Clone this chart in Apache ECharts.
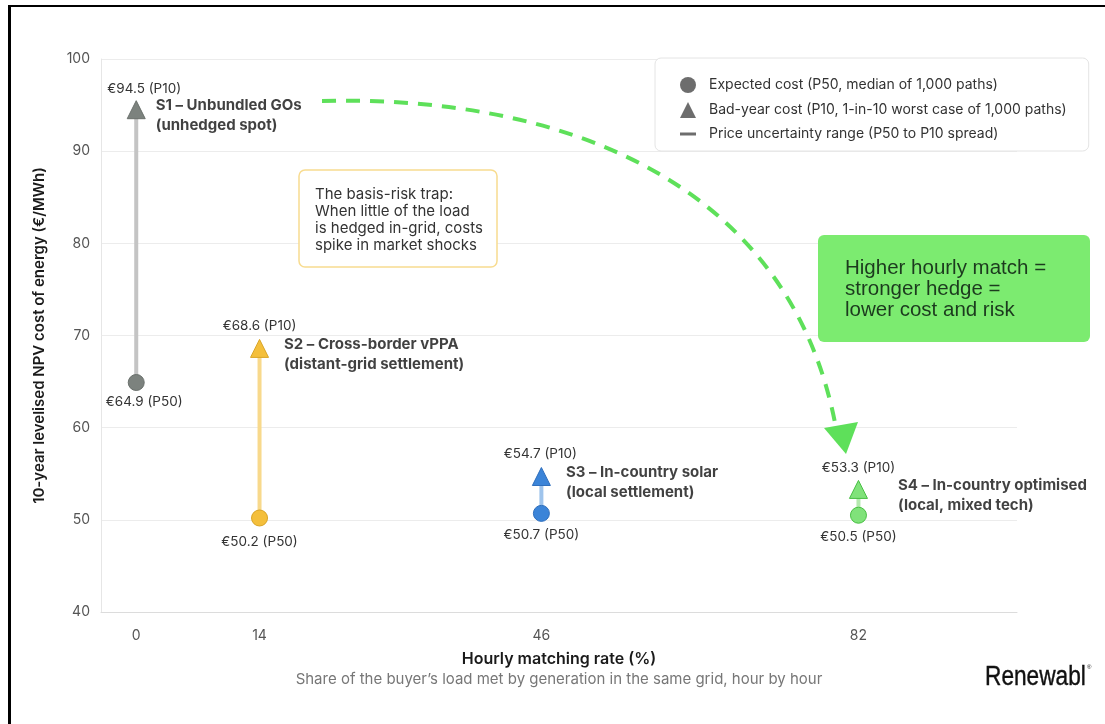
<!DOCTYPE html>
<html>
<head>
<meta charset="utf-8">
<title>Hourly matching vs cost of energy</title>
<script src="https://cdn.jsdelivr.net/npm/echarts@6/dist/echarts.min.js"></script>
<style>
  html, body { margin: 0; padding: 0; background: #ffffff; }
  #chart { width: 1105px; height: 724px; }
</style>
</head>
<body>
<div id="chart"></div>
<script>
// Scenario data: hourly matching rate and NPV cost of energy (EUR/MWh)
const scenarioNames = ['S1 – Unbundled GOs', 'S2 – Cross-border vPPA', 'S3 – In-country solar', 'S4 – In-country optimised'];
const scenarioNotes = ['(unhedged spot)', '(distant-grid settlement)', '(local settlement)', '(local, mixed tech)'];
const matchingRate = [0, 14, 46, 82];
const p50Cost = [64.9, 50.2, 50.7, 50.5];
const p10Cost = [94.5, 68.6, 54.7, 53.3];
const xTickValues = [0, 14, 46, 82];

// Per-scenario colours: marker fill, marker border, range line
const markerColors = ['#7c827e', '#f4bf3b', '#3b84d8', '#80e27a'];
const markerBorders = ['#6a706c', '#d9a527', '#2f6fbd', '#48bf43'];
const rangeColors = ['#c4c4c4', '#f8d98c', '#9fc4ec', '#b4e9ae'];

const FONT = 'Inter, "Noto Sans", sans-serif';
const chart = echarts.init(document.getElementById('chart'), null, { renderer: 'canvas' });

// Fine label placement per scenario
const p10LabelOffset = [[8, 2], [0, 0], [-1, 0], [0, 1]];
const p50LabelOffset = [[8, -2], [0, 2], [0, 0], [0, 0]];
const nameLabelDist = [19, 24, 24, 39];

const series = [];

// Range lines (P50 to P10)
scenarioNames.forEach((name, i) => {
  series.push({
    type: 'line',
    name: 'range-' + i,
    data: [[matchingRate[i], p50Cost[i]], [matchingRate[i], p10Cost[i]]],
    symbol: 'none',
    lineStyle: { color: rangeColors[i], width: 4, opacity: 1 },
    z: 2,
    silent: true,
    legendHoverLink: false
  });
});

// P50 circles
series.push({
  type: 'scatter',
  name: 'p50',
  symbol: 'circle',
  symbolSize: 16,
  z: 4,
  itemStyle: { opacity: 1 },
  data: matchingRate.map((x, i) => ({
    value: [x, p50Cost[i]],
    itemStyle: { color: markerColors[i], borderColor: markerBorders[i], borderWidth: 1, opacity: 1 },
    label: { offset: p50LabelOffset[i] }
  })),
  label: {
    show: true,
    position: 'bottom',
    distance: 6,
    formatter: p => '€' + p.value[1].toFixed(1) + ' (P50)',
    color: '#333333',
    fontSize: 13.5,
    fontFamily: FONT
  }
});

// P10 triangles
series.push({
  type: 'scatter',
  name: 'p10',
  symbol: 'triangle',
  symbolSize: 18,
  z: 4,
  itemStyle: { opacity: 1 },
  data: matchingRate.map((x, i) => ({
    value: [x, p10Cost[i]],
    itemStyle: { color: markerColors[i], borderColor: markerBorders[i], borderWidth: 1, opacity: 1 },
    label: { offset: p10LabelOffset[i] }
  })),
  label: {
    show: true,
    position: 'top',
    distance: 6,
    formatter: p => '€' + p.value[1].toFixed(1) + ' (P10)',
    color: '#333333',
    fontSize: 13.5,
    fontFamily: FONT
  }
});

// Scenario name labels beside the P10 marker
series.push({
  type: 'scatter',
  name: 'names',
  symbolSize: 1,
  itemStyle: { color: 'rgba(0,0,0,0)' },
  z: 5,
  silent: true,
  data: matchingRate.map((x, i) => ({
    value: [x, p10Cost[i]],
    label: { distance: nameLabelDist[i] }
  })),
  label: {
    show: true,
    position: 'right',
    offset: [0, 6],
    align: 'left',
    formatter: p => scenarioNames[p.dataIndex] + '\n' + scenarioNotes[p.dataIndex],
    color: '#111111',
    fontSize: 15,
    fontWeight: 'bold',
    lineHeight: 20,
    fontFamily: FONT
  }
});

// Legend-only series
const legendNames = [
  'Expected cost (P50, median of 1,000 paths)',
  'Bad-year cost (P10, 1-in-10 worst case of 1,000 paths)',
  'Price uncertainty range (P50 to P10 spread)'
];
legendNames.forEach(n => {
  series.push({ type: 'scatter', name: n, data: [], itemStyle: { color: '#6d6d6d', opacity: 1 } });
});

// Decorative overlays: frame, annotation boxes, arrow, logo
const graphics = [
  { type: 'rect', shape: { x: 8, y: 5, width: 3, height: 719 }, style: { fill: '#000' }, z: 100 },
  { type: 'rect', shape: { x: 8, y: 5, width: 1097, height: 2 }, style: { fill: '#000' }, z: 100 },
  {
    type: 'rect', shape: { x: 299, y: 170, width: 198, height: 97, r: 6 },
    style: { fill: '#ffffff', stroke: '#f8dc90', lineWidth: 1.5 }, z: 20
  },
  {
    type: 'text', x: 315, y: 186, z: 21,
    style: {
      text: 'The basis-risk trap:\nWhen little of the load\nis hedged in-grid, costs\nspike in market shocks',
      fill: '#333333', font: '15px ' + FONT, lineHeight: 17, textVerticalAlign: 'top'
    }
  },
  {
    type: 'rect', shape: { x: 818, y: 235, width: 272, height: 107, r: 6 },
    style: { fill: '#7ceb70' }, z: 20
  },
  {
    type: 'text', x: 845, y: 258, z: 21,
    style: {
      text: 'Higher hourly match =\nstronger hedge =\nlower cost and risk',
      fill: '#1c3a1e', font: '20.5px "Liberation Sans", sans-serif', lineHeight: 21, textVerticalAlign: 'top'
    }
  },
  {
    type: 'bezierCurve', z: 15,
    shape: { x1: 322, y1: 101, cpx1: 560, cpy1: 95, cpx2: 790, cpy2: 180, x2: 836, y2: 428 },
    style: { stroke: '#5ee05a', lineWidth: 4, lineDash: [14, 10], fill: null }
  },
  {
    type: 'polygon', z: 15,
    shape: { points: [[846, 454], [824, 428], [858, 422]] },
    style: { fill: '#5ee05a' }
  },
  {
    type: 'text', x: 985, y: 664, z: 21, scaleX: 0.84,
    style: {
      text: 'Renewabl', fill: '#111111', stroke: '#111111', lineWidth: 0.4,
      font: '27px "Liberation Sans", sans-serif', textVerticalAlign: 'top'
    }
  },
  {
    type: 'text', x: 1087, y: 664, z: 21,
    style: { text: '®', fill: '#111111', font: '6px "Liberation Sans", sans-serif', textVerticalAlign: 'top' }
  }
];

chart.setOption({
  animation: false,
  backgroundColor: '#ffffff',
  textStyle: { fontFamily: FONT },
  grid: { left: 101, right: 88, top: 59, bottom: 112, containLabel: false },
  xAxis: {
    type: 'value',
    min: -4,
    max: 100,
    splitLine: { show: false },
    axisLine: { show: true, onZero: false, lineStyle: { color: '#dcdcdc', width: 1 } },
    axisTick: { show: false },
    axisLabel: { customValues: xTickValues, color: '#555555', fontSize: 14, margin: 17 },
    name: '{a|Hourly matching rate (%)}\n{b|Share of the buyer\u2019s load met by generation in the same grid, hour by hour}',
    nameLocation: 'middle',
    nameGap: 37,
    nameTextStyle: {
      rich: {
        a: { fontSize: 16, fontWeight: 600, color: '#1a1a1a', lineHeight: 20, fontFamily: FONT },
        b: { fontSize: 15, color: '#777777', lineHeight: 20, fontFamily: FONT }
      }
    }
  },
  yAxis: {
    type: 'value',
    min: 40,
    max: 100,
    interval: 10,
    axisLine: { show: true, onZero: false, lineStyle: { color: '#e6e6e6' } },
    axisTick: { show: false },
    splitLine: { lineStyle: { color: '#ececec', width: 1 } },
    axisLabel: { color: '#555555', fontSize: 14, margin: 11 },
    name: '10-year levelised NPV cost of energy (€/MWh)',
    nameLocation: 'middle',
    nameGap: 54,
    nameTextStyle: { fontSize: 15, fontWeight: 600, color: '#1a1a1a' }
  },
  legend: {
    orient: 'vertical',
    left: 655,
    top: 58,
    padding: [19, 22, 10, 25],
    itemWidth: 16,
    itemHeight: 16,
    itemGap: 9,
    backgroundColor: '#ffffff',
    borderColor: '#e4e4e4',
    borderWidth: 1,
    borderRadius: 6,
    selectedMode: false,
    textStyle: { color: '#333333', fontSize: 14, padding: [0, 0, 0, 8], fontFamily: FONT },
    data: [
      { name: legendNames[0], icon: 'circle' },
      { name: legendNames[1], icon: 'triangle' },
      { name: legendNames[2], icon: 'path://M0,0H16V3H0Z' }
    ]
  },
  series: series,
  graphic: graphics
});
</script>
</body>
</html>
